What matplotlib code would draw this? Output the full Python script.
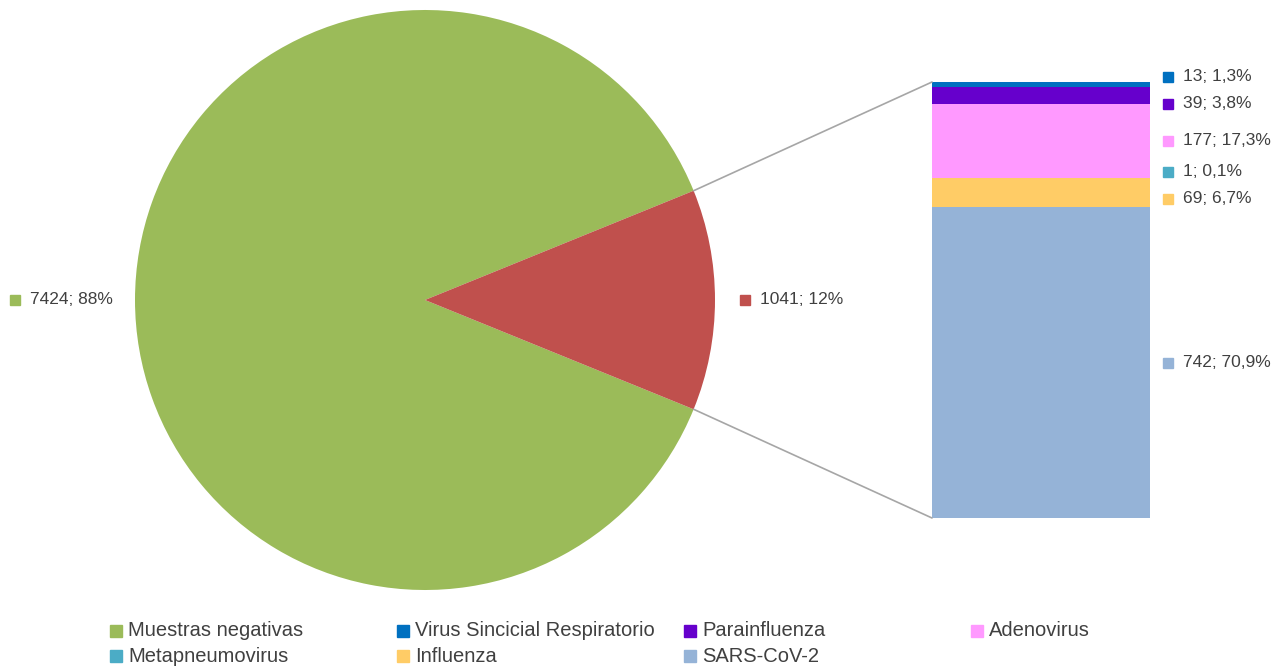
import matplotlib
matplotlib.use("Agg")
import matplotlib.pyplot as plt
from matplotlib.patches import ConnectionPatch, Rectangle
import numpy as np

plt.rcParams['font.family'] = ['Liberation Sans', 'DejaVu Sans']

# pie data
pie_labels = ['Muestras negativas', 'Positivas']
pie_values = [7424, 1041]
pie_pct = ['88%', '12%']
pie_colors = ['#9BBB59', '#C0504D']

# breakdown of the positive samples (top to bottom in the bar)
virus_names = ['Virus Sincicial Respiratorio', 'Parainfluenza', 'Adenovirus',
               'Metapneumovirus', 'Influenza', 'SARS-CoV-2']
virus_values = [13, 39, 177, 1, 69, 742]
virus_pct = ['1,3%', '3,8%', '17,3%', '0,1%', '6,7%', '70,9%']
virus_colors = ['#0070C0', '#6600CC', '#FF99FF', '#4BACC6', '#FFCC66', '#95B3D7']

text_col = '#404040'
W, H = 1282, 667
fig = plt.figure(figsize=(W / 100, H / 100), dpi=100)

# --- pie ---
ax1 = fig.add_axes([135 / W, 77 / H, 580 / W, 580 / H])
red_frac = pie_values[1] / sum(pie_values)
ax1.pie(pie_values, colors=pie_colors, startangle=180 * red_frac,
        counterclock=True, radius=1, wedgeprops=dict(linewidth=0))
ax1.set_xlim(-1, 1)
ax1.set_ylim(-1, 1)
ax1.set_aspect('equal')
ax1.axis('off')

# pie labels (left: negatives, right: positives)
ax1.plot(-1.414, 0, 's', color=pie_colors[0], ms=7, clip_on=False)
ax1.text(-1.362, 0, f'{pie_values[0]}; {pie_pct[0]}', color=text_col,
         fontsize=12.5, va='center', ha='left')
ax1.plot(1.103, 0, 's', color=pie_colors[1], ms=7, clip_on=False)
ax1.text(1.155, 0, f'{pie_values[1]}; {pie_pct[1]}', color=text_col,
         fontsize=12.5, va='center', ha='left')

# --- stacked bar ---
ax2 = fig.add_axes([932 / W, 149 / H, 218 / W, 436 / H])
total = sum(virus_values)
tops = total - np.cumsum([0] + virus_values[:-1])
bottoms = tops - np.array(virus_values)
for v, b, c in zip(virus_values, bottoms, virus_colors):
    ax2.bar(0, v, bottom=b, width=1, color=c, linewidth=0)
ax2.set_xlim(-0.5, 0.5)
ax2.set_ylim(0, total)
ax2.axis('off')

# bar labels, spread so they don't overlap
centers = list((tops + bottoms) / 2)
min_gap = 27 * total / 436
ys = centers[:]
for _ in range(200):
    for i in range(len(ys) - 1):
        d = ys[i] - ys[i + 1]
        if d < min_gap:
            shift = (min_gap - d) / 2
            ys[i] += shift
            ys[i + 1] -= shift
for y, v, p, c in zip(ys, virus_values, virus_pct, virus_colors):
    ax2.plot(0.583, y, 's', color=c, ms=7, clip_on=False)
    ax2.text(0.651, y, f'{v}; {p}', color=text_col, fontsize=12.5,
             va='center', ha='left')

# connecting lines
ang = np.deg2rad(180 * red_frac)
for yy, sgn in [(total, 1), (0, -1)]:
    con = ConnectionPatch(xyA=(np.cos(ang), sgn * np.sin(ang)), coordsA=ax1.transData,
                          xyB=(-0.5, yy), coordsB=ax2.transData,
                          color='#A6A6A6', lw=1.2)
    fig.add_artist(con)

# --- legend (manual grid, row-major) ---
leg_names = [pie_labels[0]] + virus_names
leg_colors = [pie_colors[0]] + virus_colors
for i, (n, c) in enumerate(zip(leg_names, leg_colors)):
    row, col = divmod(i, 4)
    x = 110 + col * 287
    y = 631 + row * 25
    fig.patches.append(Rectangle(((x) / W, 1 - (y + 6) / H), 12 / W, 12 / H,
                                 transform=fig.transFigure, color=c))
    fig.text((x + 18) / W, 1 - y / H, n, color=text_col, fontsize=14.5,
             va='center', ha='left')

fig.savefig('out.png', dpi=100)
